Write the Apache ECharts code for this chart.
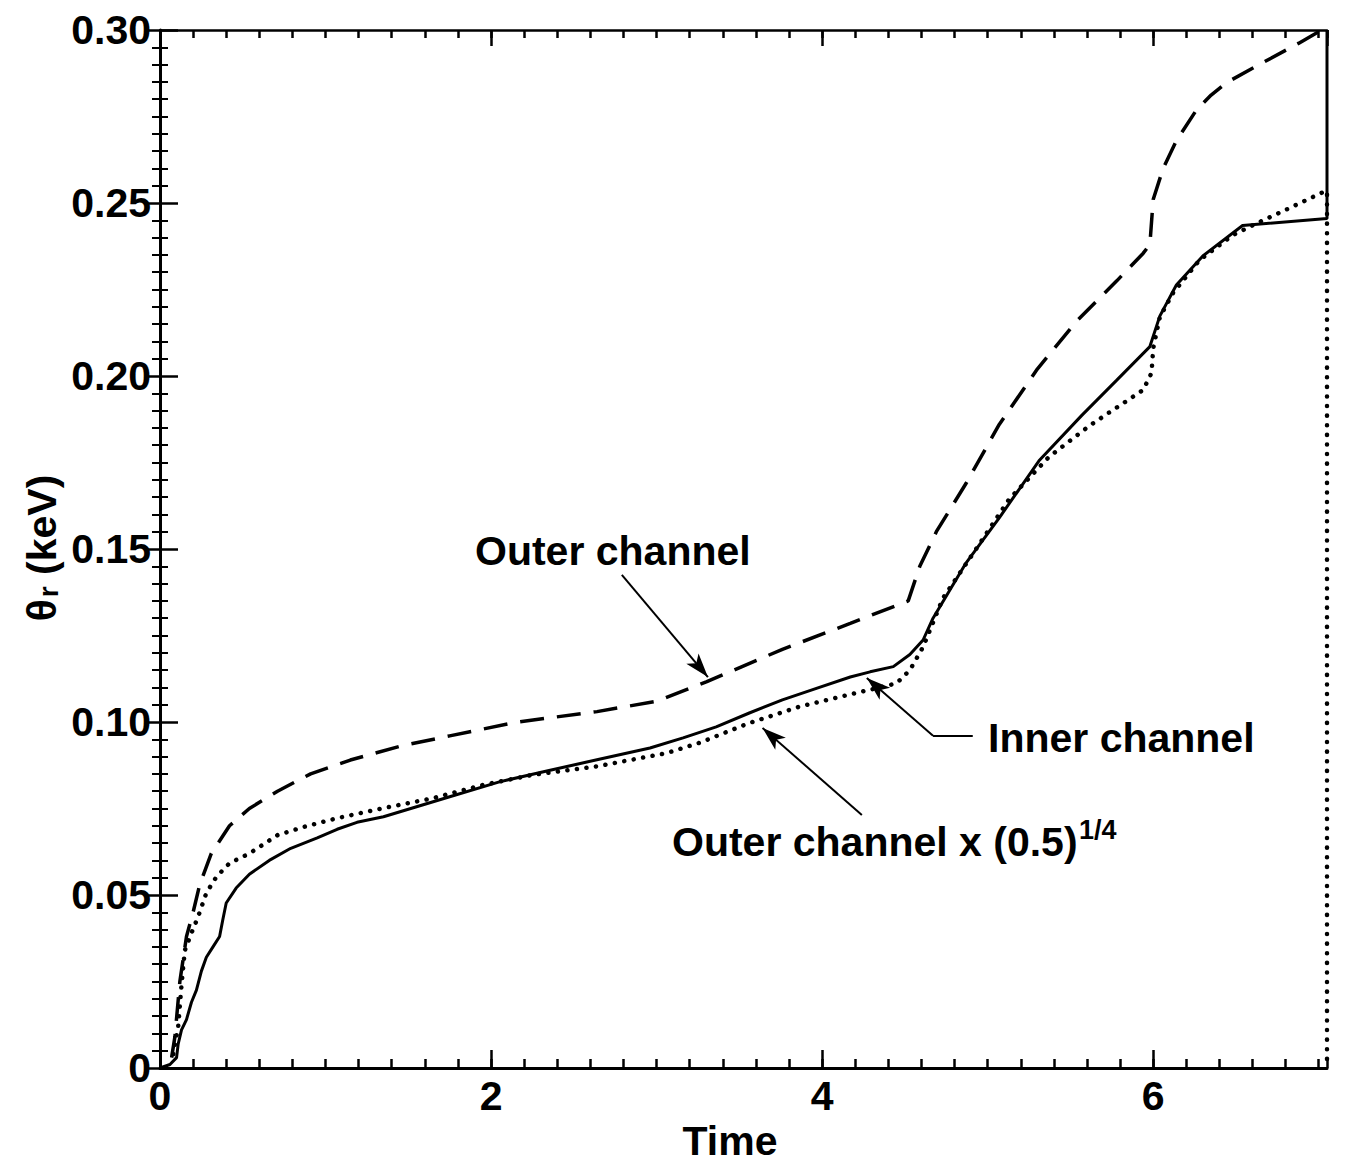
<!DOCTYPE html>
<html>
<head>
<meta charset="utf-8">
<script src="https://cdn.jsdelivr.net/npm/echarts@6/dist/echarts.min.js"></script>
<style>
    html, body { margin: 0; padding: 0; background: #ffffff; }
    #chart { width: 1347px; height: 1165px; }
</style>
</head>
<body>
<div id="chart"></div>
<script>
//外通道 (虚线)
const outerTime = [0.07, 0.09, 0.12, 0.16, 0.20, 0.24, 0.31, 0.42, 0.54, 0.71, 0.91, 1.15, 1.45, 1.75, 2.16, 2.64, 3.00, 3.30, 3.76, 4.17, 4.52, 4.59, 4.69, 4.87, 5.07, 5.30, 5.54, 5.78, 5.94, 5.98, 6.00, 6.06, 6.14, 6.26, 6.35, 6.44, 6.64, 6.88, 7.00];
const outerTheta = [0.003, 0.009, 0.025, 0.038, 0.045, 0.053, 0.062, 0.070, 0.075, 0.080, 0.085, 0.089, 0.093, 0.096, 0.100, 0.103, 0.106, 0.1116, 0.121, 0.1285, 0.135, 0.145, 0.155, 0.169, 0.186, 0.202, 0.216, 0.2275, 0.2355, 0.238, 0.251, 0.260, 0.268, 0.2768, 0.2812, 0.2847, 0.290, 0.2962, 0.2995];

//内通道 (实线)
const innerTime = [0, 0.06, 0.10, 0.11, 0.13, 0.16, 0.19, 0.22, 0.25, 0.28, 0.32, 0.36, 0.38, 0.40, 0.46, 0.54, 0.66, 0.79, 0.95, 1.07, 1.19, 1.35, 1.55, 1.75, 2.05, 2.35, 2.66, 2.96, 3.16, 3.36, 3.56, 3.76, 3.97, 4.17, 4.29, 4.43, 4.53, 4.61, 4.67, 4.77, 4.87, 5.07, 5.31, 5.57, 5.78, 5.98, 6.04, 6.14, 6.30, 6.54, 7.05, 7.05];
const innerTheta = [0, 0.001, 0.003, 0.007, 0.011, 0.014, 0.019, 0.0225, 0.028, 0.032, 0.035, 0.038, 0.043, 0.0477, 0.052, 0.056, 0.060, 0.0635, 0.0665, 0.069, 0.071, 0.0726, 0.0755, 0.0784, 0.0827, 0.086, 0.0893, 0.0925, 0.0954, 0.0986, 0.1026, 0.1064, 0.1098, 0.113, 0.1145, 0.116, 0.1195, 0.1237, 0.130, 0.138, 0.146, 0.159, 0.1755, 0.1887, 0.1988, 0.2085, 0.2173, 0.2263, 0.2347, 0.2435, 0.2455, 0.30];

//外通道 x (0.5)^1/4 (点线), 末端垂直落到 0
const scaledTime = [0.08, 0.11, 0.13, 0.15, 0.19, 0.23, 0.28, 0.34, 0.42, 0.54, 0.71, 0.87, 1.07, 1.35, 1.65, 1.95, 2.25, 2.64, 3.06, 3.26, 3.56, 3.86, 4.17, 4.35, 4.45, 4.53, 4.61, 4.73, 4.93, 5.13, 5.37, 5.62, 5.84, 5.94, 5.99, 6.00, 6.04, 6.12, 6.28, 6.48, 6.62, 6.80, 7.02, 7.05, 7.05];
const scaledTheta = [0.004, 0.012, 0.024, 0.034, 0.039, 0.0437, 0.0506, 0.0552, 0.0592, 0.062, 0.0673, 0.0697, 0.0722, 0.0751, 0.078, 0.0818, 0.0847, 0.0872, 0.091, 0.094, 0.0997, 0.1044, 0.108, 0.110, 0.1112, 0.115, 0.1217, 0.1358, 0.150, 0.1644, 0.1766, 0.1858, 0.1928, 0.196, 0.2009, 0.208, 0.217, 0.224, 0.2335, 0.2407, 0.244, 0.248, 0.253, 0.2535, 0];

//标注箭头 (数据坐标)
const outerArrow = [[2.79, 0.1425], [3.31, 0.113]];
const innerArrow = [[4.67, 0.096], [4.27, 0.1127]];
const innerLeader = [[4.67, 0.096], [4.91, 0.096]];
const scaledArrow = [[4.24, 0.0731], [3.64, 0.0983]];

//刻度
const xMax = 7.05;
const yTicks = [0, 0.05, 0.10, 0.15, 0.20, 0.25, 0.30];

const FONT = '"Liberation Sans", Arial, Helvetica, sans-serif';

function Pairs(xs, ys) {
    return xs.map(function (x, i) { return [x, ys[i]]; });
}

function DrawChart() {
    let chart = echarts.init(document.getElementById("chart"), null, {renderer: 'svg'});

    let labelStyle = {
        color: '#000',
        fontSize: 41,
        fontWeight: 'bold',
        fontFamily: FONT
    };

    //x轴: 主刻度 / 次刻度, 上下各一
    function XAxis(position, step, tickLen, showLine, showLabel) {
        return {
            type: 'value',
            position: position,
            min: 0,
            max: xMax,
            interval: step,
            axisLine: {show: showLine, lineStyle: {color: '#000', width: position === 'bottom' ? 3 : 2.5}},
            axisTick: {show: true, inside: true, length: tickLen, lineStyle: {color: '#000', width: 2.5}},
            axisLabel: Object.assign({show: showLabel, margin: 7, showMaxLabel: false}, labelStyle),
            splitLine: {show: false}
        };
    }

    //y轴: 右侧不画轴线 (由点线末端代替)
    function YAxis(position, showLabel) {
        return {
            type: 'value',
            position: position,
            min: yTicks[0],
            max: yTicks[yTicks.length - 1],
            interval: 0.05,
            axisLine: {show: position === 'left', lineStyle: {color: '#000', width: 3}},
            axisTick: {show: true, inside: true, length: position === 'left' ? 18 : 14, lineStyle: {color: '#000', width: 2.5}},
            minorTick: {show: true, splitNumber: 10, length: 8, lineStyle: {color: '#000', width: 2}},
            axisLabel: Object.assign({
                show: showLabel,
                margin: 9,
                formatter: function (v) { return v === 0 ? '0' : v.toFixed(2); }
            }, labelStyle),
            splitLine: {show: false},
            minorSplitLine: {show: false}
        };
    }

    let option = {
        animation: false,
        backgroundColor: '#ffffff',
        grid: {left: 160, right: 20, top: 30, bottom: 97},
        xAxis: [
            XAxis('bottom', 2, 18, true, true),
            XAxis('bottom', 0.2, 9, false, false),
            XAxis('top', 2, 16, true, false),
            XAxis('top', 0.2, 8, false, false)
        ],
        yAxis: [
            YAxis('left', true),
            YAxis('right', false)
        ],
        graphic: [
            {type: 'text', x: 730, y: 1141, style: {text: 'Time', font: 'bold 41px ' + FONT, fill: '#000', align: 'center', verticalAlign: 'middle'}},
            {
                type: 'text', x: 40, y: 548, rotation: Math.PI / 2,
                style: {
                    text: '{t|θ}{s|r}{t| (keV)}',
                    fill: '#000', align: 'center', verticalAlign: 'middle',
                    rich: {
                        t: {fontSize: 41, fontWeight: 'bold', fontFamily: FONT, fill: '#000', verticalAlign: 'bottom'},
                        s: {fontSize: 28, fontWeight: 'bold', fontFamily: FONT, fill: '#000', verticalAlign: 'bottom', padding: [16, 0, 0, 2]}
                    }
                }
            },
            {type: 'text', x: 475, y: 551, style: {text: 'Outer channel', font: 'bold 41px ' + FONT, fill: '#000', verticalAlign: 'middle'}},
            {type: 'text', x: 988, y: 738, style: {text: 'Inner channel', font: 'bold 41px ' + FONT, fill: '#000', verticalAlign: 'middle'}},
            {type: 'text', x: 672, y: 842, style: {text: 'Outer channel x (0.5)', font: 'bold 41px ' + FONT, fill: '#000', verticalAlign: 'middle'}},
            {type: 'text', x: 1079, y: 830, style: {text: '1/4', font: 'bold 27px ' + FONT, fill: '#000', verticalAlign: 'middle'}}
        ],
        series: [{
            name: 'Outer channel',
            type: 'line',
            showSymbol: false,
            smooth: false,
            lineStyle: {color: '#000', width: 3.5, type: [24, 13]},
            data: Pairs(outerTime, outerTheta)
        }, {
            name: 'Inner channel',
            type: 'line',
            showSymbol: false,
            smooth: false,
            lineStyle: {color: '#000', width: 3},
            data: Pairs(innerTime, innerTheta),
            markLine: {
                silent: true,
                animation: false,
                symbol: ['none', 'arrow'],
                symbolSize: [12, 24],
                label: {show: false},
                emphasis: {disabled: true},
                lineStyle: {color: '#000', width: 2, type: 'solid'},
                data: [
                    [{coord: outerArrow[0]}, {coord: outerArrow[1]}],
                    [{coord: innerArrow[0]}, {coord: innerArrow[1]}],
                    [{coord: innerLeader[0], symbol: 'none'}, {coord: innerLeader[1], symbol: 'none'}],
                    [{coord: scaledArrow[0]}, {coord: scaledArrow[1]}]
                ]
            }
        }, {
            name: 'Outer channel x (0.5)^1/4',
            type: 'line',
            showSymbol: false,
            smooth: false,
            lineStyle: {color: '#000', width: 4.5, type: [0.1, 9.5], cap: 'round'},
            data: Pairs(scaledTime, scaledTheta)
        }]
    };

    chart.setOption(option);
}

DrawChart();
</script>
</body>
</html>
